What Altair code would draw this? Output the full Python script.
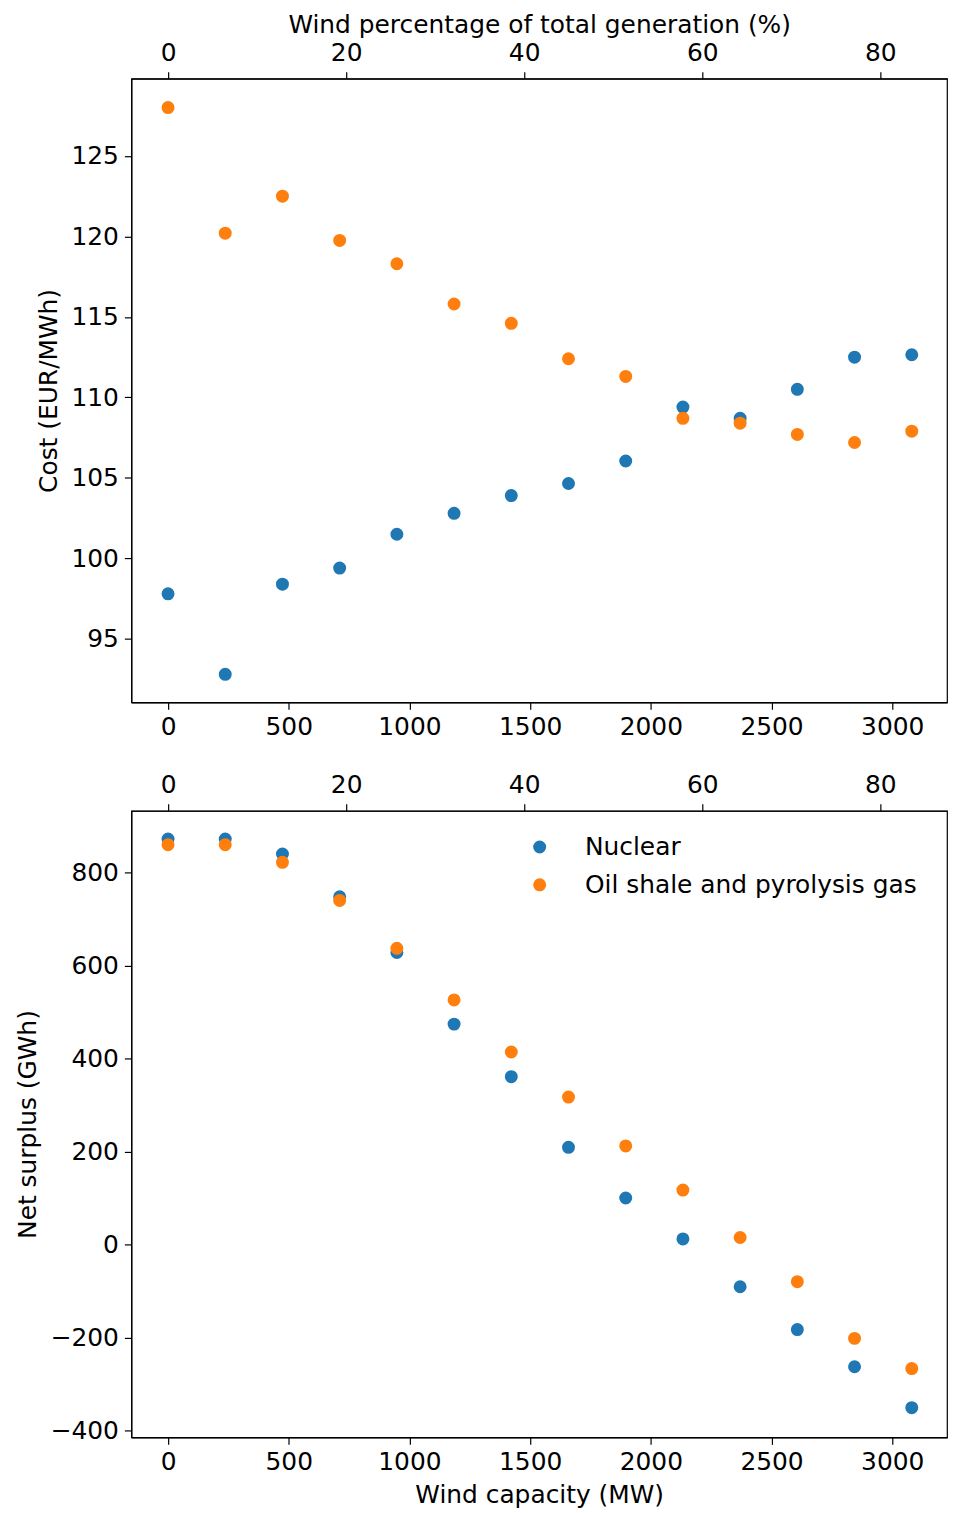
import altair as alt
import pandas as pd

# Wind capacity (MW) for each scenario
capacity_mw = [0, 237, 474, 711, 948, 1185, 1422, 1659, 1896, 2133, 2370, 2607, 2844, 3081]
# Wind share of total generation (%) for each scenario
wind_pct = [0, 6.4, 12.8, 19.2, 25.6, 32.1, 38.5, 44.9, 51.3, 57.7, 64.1, 70.5, 77.0, 83.4]

cost_nuclear = [97.8, 92.8, 98.4, 99.4, 101.5, 102.8, 103.9, 104.65, 106.05, 109.4, 108.7, 110.5, 112.5, 112.65]
cost_oilshale = [128.0, 120.2, 122.5, 119.75, 118.3, 115.8, 114.6, 112.4, 111.3, 108.7, 108.4, 107.7, 107.2, 107.9]

surplus_nuclear = [872, 872, 840, 748, 628, 474, 361, 209, 100, 12, -91, -183, -263, -351]
surplus_oilshale = [860, 860, 822, 740, 637, 526, 414, 317, 212, 117, 15, -80, -202, -267]

series = ["Nuclear", "Oil shale and pyrolysis gas"]
colors = ["#1f77b4", "#ff7f0e"]

rows = []
for i, c in enumerate(capacity_mw):
    rows.append({"cap": c, "pct": wind_pct[i], "series": series[0],
                 "cost": cost_nuclear[i], "surplus": surplus_nuclear[i]})
for i, c in enumerate(capacity_mw):
    rows.append({"cap": c, "pct": wind_pct[i], "series": series[1],
                 "cost": cost_oilshale[i], "surplus": surplus_oilshale[i]})
df = pd.DataFrame(rows)

W = 820
FONT = "DejaVu Sans"
FS = 25

cap_scale = alt.Scale(domain=[-152, 3227], nice=False, zero=False)
pct_scale = alt.Scale(domain=[-4.13, 87.5], nice=False, zero=False)


def panel(field, ytitle, ydomain, yticks, xtitle_bottom, xtitle_top, legend, height):
    ysc = alt.Scale(domain=ydomain, nice=False, zero=False)
    yaxis = alt.Axis(title=ytitle, values=yticks, labelPadding=6, titlePadding=10, format="d")
    color = alt.Color(
        "series:N",
        scale=alt.Scale(domain=series, range=colors),
        legend=legend,
    )
    base = alt.Chart(df)
    pts = base.mark_circle(size=170, opacity=1).encode(
        x=alt.X("cap:Q", scale=cap_scale,
                axis=alt.Axis(title=xtitle_bottom, orient="bottom",
                              values=[0, 500, 1000, 1500, 2000, 2500, 3000],
                              format="d", labelPadding=5, titlePadding=8)),
        y=alt.Y(f"{field}:Q", scale=ysc, axis=yaxis),
        color=color,
    )
    top = base.mark_circle(size=170, opacity=0).encode(
        x=alt.X("pct:Q", scale=pct_scale,
                axis=alt.Axis(title=xtitle_top, orient="top",
                              values=[0, 20, 40, 60, 80],
                              format="d", labelPadding=6, titlePadding=3)),
        y=alt.Y(f"{field}:Q", scale=ysc, axis=yaxis),
    )
    return alt.layer(pts, top).resolve_scale(x="independent").properties(width=W, height=height)


legend_bottom = alt.Legend(
    title=None, orient="none", legendX=398, legendY=24,
    labelFontSize=FS, labelFont=FONT, labelColor="black", labelLimit=600,
    symbolSize=170, symbolType="circle", labelOffset=33, rowPadding=12,
    padding=0, symbolStrokeWidth=0,
)

p1 = panel("cost", "Cost (EUR/MWh)", [91.06, 129.8], [95, 100, 105, 110, 115, 120, 125],
           None, "Wind percentage of total generation (%)", None, 627)
p2 = panel("surplus", "Net surplus (GWh)", [-415, 933], [-400, -200, 0, 200, 400, 600, 800],
           "Wind capacity (MW)", None, legend_bottom, 630)

chart = alt.vconcat(p1, p2, spacing=32).resolve_legend(color="independent").configure(
    padding={"left": 6, "top": 0, "right": 0, "bottom": 0},
    background="white",
).configure_view(
    stroke="black", strokeWidth=1.2
).configure_axis(
    labelFont=FONT, titleFont=FONT, labelFontSize=FS, titleFontSize=FS,
    labelColor="black", titleColor="black", titleFontWeight="normal",
    tickColor="black", domainColor="black", tickSize=7, tickWidth=1.2,
    domainWidth=1.2, grid=False,
)

chart.save("out.html", embed_options={"renderer": "svg", "actions": False})
